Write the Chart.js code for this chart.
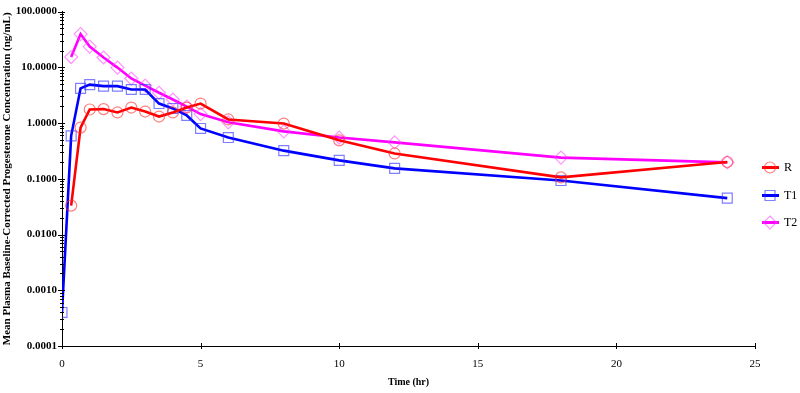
<!DOCTYPE html>
<html>
<head>
<meta charset="utf-8">
<script src="https://cdn.jsdelivr.net/npm/chart.js@4.4.1/dist/chart.umd.min.js"></script>
<style>
  html, body { margin: 0; padding: 0; background: #ffffff; }
  #wrap { width: 800px; height: 393px; position: relative; }
</style>
</head>
<body>
<div id="wrap"><canvas id="c" width="800" height="393"></canvas></div>
<script>
// ---- data ----
const times = [0, 0.33, 0.67, 1, 1.5, 2, 2.5, 3, 3.5, 4, 4.5, 5, 6, 8, 10, 12, 18, 24];
const seriesR  = [null, 0.033, 0.83, 1.75, 1.78, 1.55, 1.9, 1.61, 1.31, 1.55, 1.9, 2.24, 1.16, 0.98, 0.49, 0.285, 0.106, 0.2];
const seriesT1 = [0.0004, 0.59, 4.2, 4.9, 4.6, 4.6, 4.0, 4.0, 2.24, 1.83, 1.37, 0.80, 0.55, 0.32, 0.214, 0.154, 0.093, 0.045];
const seriesT2 = [null, 15.3, 39.5, 23.6, 15, 9.9, 6.3, 4.7, 3.5, 2.65, 1.98, 1.45, 1.03, 0.71, 0.55, 0.45, 0.24, 0.197];
const seriesNames = ['R', 'T1', 'T2'];
const xTicks = [0, 5, 10, 15, 20, 25];
const yMajorTicks = [0.0001, 0.001, 0.01, 0.1, 1, 10, 100];
const yTitle = 'Mean Plasma Baseline-Corrected Progesterone Concentration (ng/mL)';
const xTitle = 'Time (hr)';

const toPts = arr => times.map((t, i) => ({x: t, y: arr[i]})).filter(p => p.y !== null);

const SERIF = '"Liberation Serif", "Times New Roman", serif';

const styles = [
  {line: '#ff0000', mark: 'rgba(255,40,40,0.6)', shape: 'circle', r: 5.5},
  {line: '#0000ff', mark: 'rgba(40,40,255,0.6)', shape: 'rect', r: 7},
  {line: '#ff00ff', mark: 'rgba(255,60,255,0.55)', shape: 'rectRot', r: 6.5}
];
const allSeries = [seriesR, seriesT1, seriesT2];

const datasets = allSeries.map((s, i) => ({
  label: seriesNames[i],
  data: toPts(s),
  borderColor: styles[i].line,
  backgroundColor: 'rgba(0,0,0,0)',
  borderWidth: 2.6,
  tension: 0,
  pointStyle: styles[i].shape,
  pointRadius: styles[i].r,
  pointHoverRadius: styles[i].r,
  pointBorderColor: styles[i].mark,
  pointBackgroundColor: 'rgba(0,0,0,0)',
  pointBorderWidth: 1.2
}));

// all log ticks (major + minor)
const allYTicks = [];
for (let e = -4; e <= 2; e++) {
  for (let m = 1; m <= 9; m++) {
    const v = m * Math.pow(10, e);
    if (v <= 100.0001) allYTicks.push(+v.toPrecision(3));
  }
}

const axisTicksPlugin = {
  id: 'axisTicks',
  afterDraw(chart) {
    const ctx = chart.ctx;
    const xs = chart.scales.x, ys = chart.scales.y;
    const ax = xs.getPixelForValue(0);
    const ay = ys.getPixelForValue(0.0001);
    ctx.save();
    ctx.strokeStyle = '#000';
    ctx.lineWidth = 1;
    ctx.beginPath();
    allYTicks.forEach(v => {
      const py = Math.round(ys.getPixelForValue(v)) + 0.5;
      const major = yMajorTicks.some(m => Math.abs(m - v) / m < 1e-6);
      ctx.moveTo(ax - (major ? 4 : 2), py);
      ctx.lineTo(ax + (major ? 3 : 2), py);
    });
    xTicks.forEach(v => {
      const px = Math.round(xs.getPixelForValue(v)) + 0.5;
      ctx.moveTo(px, ay - 3);
      ctx.lineTo(px, ay + 3);
    });
    ctx.stroke();

    // legend
    const cx = chart.chartArea.right + 15;
    const cyMid = chart.height / 2 - 2;
    const gap = 27.5;
    chart.data.datasets.forEach((ds, i) => {
      const cy = Math.round(cyMid + (i - 1) * gap) + 0.5;
      ctx.strokeStyle = ds.borderColor;
      ctx.lineWidth = 3;
      ctx.beginPath();
      ctx.moveTo(cx - 8, cy);
      ctx.lineTo(cx + 9, cy);
      ctx.stroke();
      ctx.lineWidth = 1.2;
      ctx.strokeStyle = ds.pointBorderColor;
      ctx.beginPath();
      const st = styles[i];
      if (st.shape === 'circle') {
        ctx.arc(cx, cy, 5.5, 0, Math.PI * 2);
      } else if (st.shape === 'rect') {
        ctx.rect(cx - 5, cy - 5, 10, 10);
      } else {
        ctx.moveTo(cx, cy - 6.5); ctx.lineTo(cx + 6.5, cy); ctx.lineTo(cx, cy + 6.5); ctx.lineTo(cx - 6.5, cy); ctx.closePath();
      }
      ctx.stroke();
      ctx.fillStyle = '#000';
      ctx.font = '12px ' + SERIF;
      ctx.textBaseline = 'middle';
      ctx.textAlign = 'left';
      ctx.fillText(ds.label, cx + 14, cy);
    });
    ctx.restore();
  }
};

new Chart(document.getElementById('c'), {
  type: 'line',
  data: { datasets },
  options: {
    responsive: false,
    animation: false,
    events: [],
    layout: { padding: { top: 11, right: 45, bottom: 0, left: 0 } },
    plugins: {
      legend: { display: false },
      tooltip: { enabled: false }
    },
    scales: {
      x: {
        type: 'linear',
        min: 0, max: 25,
        afterBuildTicks: s => { s.ticks = xTicks.map(v => ({value: v})); },
        afterFit: s => { s.height = 47; },
        grid: { display: false, drawTicks: false },
        border: { display: true, color: '#000', width: 1 },
        ticks: {
          color: '#000',
          padding: 12,
          font: { family: SERIF, size: 11 },
          maxRotation: 0,
          autoSkip: false
        },
        title: {
          display: true, text: xTitle, color: '#000',
          font: { family: SERIF, size: 10, weight: 'bold' },
          padding: { top: 0, bottom: 5 }
        }
      },
      y: {
        type: 'logarithmic',
        min: 0.0001, max: 100,
        afterBuildTicks: s => { s.ticks = allYTicks.map(v => ({value: v})); },
        afterFit: s => { s.width = 62; },
        grid: { display: false, drawTicks: false },
        border: { display: true, color: '#000', width: 1 },
        ticks: {
          color: '#000',
          padding: 5,
          autoSkip: false,
          font: { family: SERIF, size: 11, weight: 'bold' },
          callback: v => yMajorTicks.some(m => Math.abs(m - v) / m < 1e-6) ? Number(v).toFixed(4) : ''
        },
        title: {
          display: true, text: yTitle, color: '#000',
          font: { family: SERIF, size: 11, weight: 'bold' },
          padding: { top: 1, bottom: 0 }
        }
      }
    }
  },
  plugins: [axisTicksPlugin]
});
</script>
</body>
</html>
